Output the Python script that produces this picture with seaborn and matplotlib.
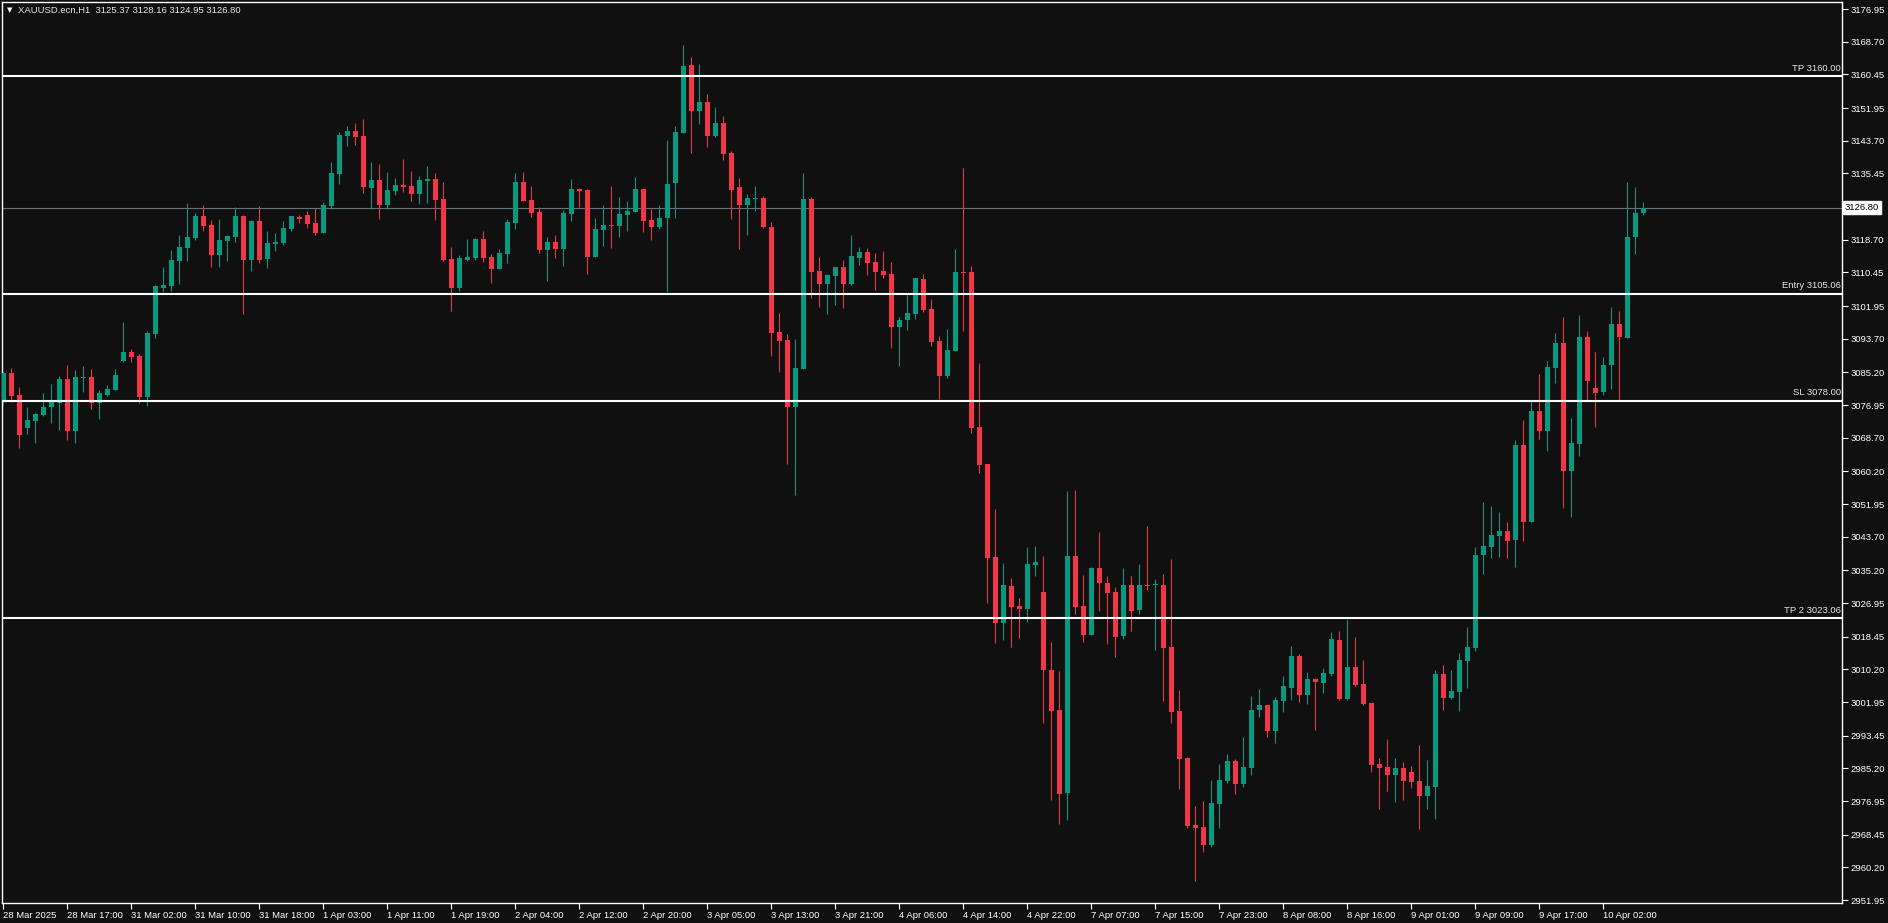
import matplotlib
matplotlib.use("Agg")
import numpy as np
import pandas as pd
import seaborn as sns
import matplotlib.pyplot as plt
import matplotlib.transforms as mtransforms

# ---------------- data (XAUUSD.ecn H1) ----------------
opens = [3077.7, 3085.0, 3079.5, 3071.1, 3072.9, 3074.4, 3076.4, 3077.4, 3083.5, 3070.4,
         3083.8, 3084.0, 3077.4, 3079.5, 3080.7, 3088.0, 3090.3, 3089.3, 3078.9, 3094.9,
         3106.5, 3107.0, 3113.3, 3116.6, 3119.1, 3124.7, 3122.4, 3114.8, 3118.4, 3119.4,
         3124.7, 3113.6, 3123.4, 3113.8, 3117.6, 3117.9, 3121.4, 3124.4, 3124.9, 3122.9,
         3120.4, 3127.3, 3135.3, 3144.9, 3146.1, 3144.9, 3131.7, 3133.7, 3127.4, 3131.0,
         3132.5, 3132.3, 3130.2, 3133.5, 3134.0, 3128.9, 3113.8, 3106.5, 3113.5, 3114.0,
         3118.8, 3114.3, 3111.2, 3115.1, 3122.9, 3133.2, 3128.7, 3125.7, 3116.1, 3118.1,
         3116.3, 3125.2, 3131.5, 3131.2, 3114.3, 3121.1, 3122.4, 3122.1, 3124.9, 3125.7,
         3131.5, 3123.6, 3121.9, 3124.2, 3133.0, 3145.6, 3162.8, 3151.2, 3153.4, 3144.9,
         3148.1, 3140.6, 3132.0, 3127.4, 3128.9, 3129.2, 3121.9, 3095.4, 3093.4, 3076.4,
         3086.0, 3129.0, 3110.8, 3107.5, 3109.5, 3111.8, 3107.5, 3114.0, 3115.6, 3113.0,
         3110.8, 3110.0, 3096.6, 3098.4, 3099.9, 3108.7, 3101.2, 3093.1, 3084.3, 3090.6,
         3110.5, 3110.5, 3071.4, 3062.0, 3038.6, 3021.8, 3031.3, 3026.2, 3025.5, 3036.5,
         3029.7, 3010.0, 2999.9, 2978.9, 3038.8, 3026.2, 3018.9, 3035.8, 3032.0, 3029.7,
         3018.6, 3031.5, 3025.1, 3031.5, 3031.4, 3031.5, 3015.8, 2999.6, 2987.8, 2970.8,
         2970.4, 2965.8, 2976.2, 2982.0, 2987.0, 2981.2, 2985.3, 2999.9, 3001.2, 2994.6,
         3002.2, 3005.5, 3013.6, 3003.7, 3007.8, 3006.7, 3009.0, 3017.6, 3002.7, 3010.8,
         3006.5, 3001.7, 2986.3, 2985.5, 2983.5, 2985.3, 2984.3, 2982.0, 2978.2, 2980.5,
         3009.0, 3002.9, 3004.5, 3012.3, 3015.6, 3039.1, 3041.1, 3043.9, 3045.1, 3042.9,
         3066.9, 3047.4, 3075.4, 3070.4, 3086.3, 3092.6, 3060.3, 3067.1, 3094.1, 3081.2,
         3080.2, 3087.1, 3097.4, 3093.9, 3119.4, 3125.37]
highs = [3085.5, 3086.3, 3081.5, 3076.4, 3074.9, 3080.0, 3082.2, 3084.3, 3087.0, 3085.8,
         3086.8, 3086.0, 3080.7, 3082.0, 3086.0, 3097.9, 3091.1, 3089.8, 3095.6, 3107.2,
         3111.8, 3116.1, 3119.9, 3128.0, 3125.4, 3127.5, 3123.7, 3123.9, 3119.9, 3126.9,
         3124.9, 3123.7, 3127.2, 3120.9, 3120.4, 3123.4, 3124.7, 3124.9, 3125.9, 3126.7,
         3128.2, 3138.3, 3145.9, 3147.4, 3148.1, 3149.2, 3138.3, 3137.8, 3135.8, 3134.3,
         3139.1, 3136.0, 3134.8, 3137.3, 3135.5, 3133.2, 3116.8, 3114.8, 3118.8, 3119.1,
         3120.8, 3115.1, 3116.3, 3123.9, 3135.5, 3135.7, 3132.2, 3126.9, 3119.4, 3119.9,
         3126.2, 3134.0, 3131.7, 3131.5, 3124.2, 3127.4, 3132.2, 3129.4, 3128.4, 3134.5,
         3131.5, 3126.4, 3127.4, 3143.9, 3147.4, 3167.8, 3164.8, 3163.0, 3155.5, 3152.2,
         3149.9, 3141.1, 3134.3, 3130.2, 3132.2, 3129.7, 3123.1, 3100.2, 3094.9, 3093.6,
         3135.5, 3129.5, 3114.3, 3110.0, 3111.8, 3113.5, 3119.9, 3116.8, 3116.6, 3115.3,
         3115.8, 3113.0, 3099.1, 3105.0, 3109.0, 3110.0, 3103.7, 3094.4, 3096.1, 3116.3,
         3136.8, 3112.1, 3087.6, 3062.0, 3050.6, 3037.1, 3033.2, 3028.2, 3041.1, 3041.3,
         3038.8, 3017.1, 3009.8, 3055.2, 3055.5, 3034.0, 3036.1, 3044.8, 3033.8, 3030.9,
         3035.8, 3033.8, 3036.7, 3046.4, 3033.0, 3034.2, 3038.1, 3005.0, 2988.0, 2975.7,
         2976.9, 2982.2, 2986.3, 2988.8, 2987.5, 2993.1, 3003.5, 3005.2, 3001.2, 3003.2,
         3008.5, 3016.1, 3014.1, 3009.5, 3008.0, 3010.5, 3019.6, 3019.9, 3022.9, 3018.4,
         3012.5, 3001.7, 2987.8, 2992.6, 2987.8, 2986.8, 2985.8, 2991.1, 2987.3, 3010.0,
         3011.3, 3010.0, 3014.3, 3020.9, 3041.1, 3052.5, 3051.5, 3049.9, 3047.4, 3068.1,
         3073.2, 3078.2, 3084.8, 3088.1, 3095.1, 3099.2, 3073.7, 3099.7, 3095.6, 3090.3,
         3089.1, 3101.7, 3100.7, 3133.3, 3132.0, 3128.16]
lows = [3076.7, 3077.7, 3066.2, 3069.7, 3067.3, 3074.2, 3072.4, 3070.6, 3068.1, 3067.3,
        3080.2, 3075.9, 3073.4, 3079.2, 3080.7, 3087.8, 3087.8, 3077.4, 3076.7, 3093.9,
        3105.5, 3105.7, 3107.5, 3113.3, 3118.6, 3120.9, 3111.8, 3111.8, 3113.3, 3118.1,
        3099.9, 3110.8, 3112.8, 3111.5, 3115.8, 3117.4, 3120.9, 3122.9, 3121.6, 3119.9,
        3120.4, 3126.5, 3132.8, 3142.4, 3142.6, 3130.4, 3126.4, 3123.9, 3126.4, 3130.0,
        3130.7, 3128.4, 3127.7, 3127.9, 3123.6, 3113.3, 3100.6, 3105.7, 3113.3, 3113.5,
        3113.0, 3107.7, 3111.2, 3112.8, 3121.4, 3128.4, 3124.4, 3115.3, 3108.2, 3114.0,
        3112.0, 3123.4, 3126.9, 3110.0, 3114.3, 3117.1, 3116.6, 3119.4, 3120.8, 3125.7,
        3120.6, 3118.6, 3121.4, 3105.5, 3124.2, 3145.6, 3140.6, 3147.9, 3142.1, 3144.6,
        3138.8, 3123.9, 3116.3, 3119.9, 3125.9, 3121.6, 3089.3, 3085.3, 3062.0, 3054.2,
        3086.0, 3104.0, 3101.7, 3099.9, 3102.2, 3101.4, 3107.2, 3112.3, 3109.8, 3106.0,
        3109.0, 3091.3, 3086.8, 3095.9, 3098.6, 3100.4, 3091.8, 3078.4, 3083.8, 3090.6,
        3095.6, 3069.8, 3059.8, 3027.0, 3016.9, 3017.6, 3015.8, 3018.1, 3022.2, 3033.8,
        2996.7, 2977.2, 2971.2, 2972.1, 3024.1, 3017.1, 3018.9, 3024.9, 3016.6, 3013.3,
        3017.8, 3019.8, 3024.1, 3030.3, 3015.0, 3002.2, 2996.7, 2980.0, 2970.2, 2956.7,
        2964.1, 2965.3, 2970.1, 2981.5, 2978.7, 2980.5, 2983.5, 2998.2, 2993.1, 2991.6,
        2999.4, 3002.4, 3001.9, 3001.4, 2994.9, 3004.2, 3008.5, 3002.4, 3002.4, 3006.0,
        3001.2, 2984.3, 2974.9, 2979.5, 2976.7, 2977.2, 2980.2, 2969.9, 2974.9, 2972.4,
        2999.9, 3002.7, 2999.6, 3005.5, 3014.8, 3034.3, 3038.3, 3038.6, 3038.3, 3036.0,
        3042.6, 3047.4, 3068.4, 3065.3, 3082.5, 3050.9, 3048.7, 3064.1, 3078.2, 3071.4,
        3079.5, 3081.0, 3078.2, 3093.9, 3115.1, 3124.95]
closes = [3085.0, 3079.2, 3069.4, 3073.2, 3074.7, 3076.4, 3077.7, 3083.5, 3070.4, 3084.0,
          3084.0, 3077.4, 3080.0, 3081.0, 3084.5, 3090.3, 3089.0, 3078.9, 3095.1, 3107.0,
          3107.2, 3113.6, 3116.8, 3119.4, 3124.7, 3122.1, 3114.8, 3118.6, 3119.6, 3124.7,
          3113.6, 3123.4, 3113.6, 3117.9, 3118.1, 3121.6, 3124.7, 3123.9, 3122.6, 3120.4,
          3127.5, 3135.5, 3145.1, 3146.1, 3144.6, 3132.0, 3133.7, 3127.4, 3131.2, 3132.5,
          3132.0, 3130.2, 3133.7, 3134.0, 3128.7, 3113.5, 3106.5, 3114.0, 3114.3, 3118.8,
          3114.0, 3111.2, 3115.3, 3123.1, 3133.2, 3128.4, 3125.4, 3116.1, 3118.1, 3116.3,
          3125.4, 3131.5, 3131.0, 3114.3, 3121.4, 3122.4, 3122.1, 3125.2, 3125.9, 3131.5,
          3123.4, 3121.9, 3124.2, 3132.7, 3145.9, 3162.5, 3151.2, 3153.4, 3144.9, 3148.1,
          3140.3, 3131.2, 3127.4, 3129.2, 3129.2, 3121.9, 3095.1, 3093.1, 3076.4, 3086.3,
          3129.0, 3110.5, 3107.5, 3109.8, 3111.8, 3107.5, 3114.6, 3115.6, 3112.8, 3110.5,
          3109.8, 3096.6, 3098.4, 3100.2, 3109.0, 3100.9, 3092.8, 3084.3, 3090.8, 3110.5,
          3110.3, 3071.2, 3061.8, 3038.3, 3021.8, 3031.5, 3025.9, 3025.5, 3036.7, 3037.3,
          3010.0, 2999.6, 2978.7, 3038.8, 3025.9, 3018.9, 3035.8, 3032.0, 3029.6, 3018.3,
          3031.5, 3024.9, 3031.5, 3031.3, 3031.5, 3015.6, 2999.4, 2987.6, 2970.6, 2970.1,
          2965.8, 2976.4, 2982.2, 2987.0, 2981.2, 2985.5, 2999.9, 3001.2, 2994.6, 3002.4,
          3006.0, 3013.6, 3003.7, 3007.8, 3007.0, 3009.3, 3017.9, 3002.7, 3010.8, 3006.2,
          3001.4, 2986.0, 2985.3, 2983.5, 2985.3, 2982.0, 2981.7, 2978.2, 2980.7, 3009.0,
          3002.9, 3004.7, 3012.5, 3015.8, 3039.1, 3041.3, 3044.1, 3045.1, 3042.6, 3066.9,
          3047.4, 3075.4, 3070.4, 3086.6, 3092.6, 3060.3, 3067.4, 3094.1, 3083.0, 3080.0,
          3087.1, 3097.4, 3094.1, 3119.4, 3125.4, 3126.80]

time_labels = ["28 Mar 2025", "28 Mar 17:00", "31 Mar 02:00", "31 Mar 10:00", "31 Mar 18:00",
               "1 Apr 03:00", "1 Apr 11:00", "1 Apr 19:00", "2 Apr 04:00", "2 Apr 12:00",
               "2 Apr 20:00", "3 Apr 05:00", "3 Apr 13:00", "3 Apr 21:00", "4 Apr 06:00",
               "4 Apr 14:00", "4 Apr 22:00", "7 Apr 07:00", "7 Apr 15:00", "7 Apr 23:00",
               "8 Apr 08:00", "8 Apr 16:00", "9 Apr 01:00", "9 Apr 09:00", "9 Apr 17:00",
               "10 Apr 02:00"]
price_ticks = [3176.95, 3168.70, 3160.45, 3151.95, 3143.70, 3135.45, 3118.70, 3110.45,
               3101.95, 3093.70, 3085.20, 3076.95, 3068.70, 3060.20, 3051.95, 3043.70,
               3035.20, 3026.95, 3018.45, 3010.20, 3001.95, 2993.45, 2985.20, 2976.95,
               2968.45, 2960.20, 2951.95]
level_names = ["TP", "Entry", "SL", "TP 2"]
level_values = [3160.00, 3105.06, 3078.00, 3023.06]
current_price = 3126.80
symbol = "XAUUSD.ecn,H1"

# ---------------- style ----------------
BG = "#101010"
UP = "#089981"
DOWN = "#F23645"
sns.set_theme(style="dark", rc={"axes.facecolor": BG, "figure.facecolor": BG,
                                "axes.edgecolor": "white", "text.color": "white",
                                "xtick.color": "white", "ytick.color": "white"})
plt.rcParams["font.family"] = ["Liberation Sans", "DejaVu Sans"]

df = pd.DataFrame({"open": opens, "high": highs, "low": lows, "close": closes})
df["idx"] = np.arange(len(df))
df["up"] = df["close"] >= df["open"]
df["body_lo"] = df[["open", "close"]].min(axis=1)
df["body_h"] = (df["close"] - df["open"]).abs().clip(lower=0.28)
colors = np.where(df["up"], UP, DOWN)

W, H = 1888, 923
fig = plt.figure(figsize=(W / 100, H / 100), dpi=100, facecolor=BG)
ax = fig.add_axes([2 / W, (H - 902.5) / H, 1840 / W, 900.5 / H])
ax.set_facecolor(BG)

# candles
ax.vlines(df["idx"], df["low"], df["high"], colors=colors, linewidth=0.75, zorder=3)
ax.bar(df["idx"], df["body_h"], bottom=df["body_lo"], width=0.62, color=colors,
       linewidth=0, zorder=4)

ax.set_xlim(-0.16, 229.84)
ax.set_ylim(2951.32, 3178.72)

# levels
trans = mtransforms.blended_transform_factory(ax.transAxes, ax.transData)
for name, val in zip(level_names, level_values):
    ax.axhline(val, color="white", linewidth=1.5, zorder=5)
    ax.text(0.9995, val + 0.9, f"{name} {val:.2f}", transform=trans, ha="right",
            va="bottom", color="#e6e6e6", fontsize=6.8, zorder=6)
ax.axhline(current_price, color="#66707a", linewidth=0.8, zorder=2)
ax.text(1 + 3 / 1840, current_price, f"{current_price:.2f}", transform=trans,
        ha="left", va="center", color="black", fontsize=6.8, zorder=7, clip_on=False,
        bbox=dict(facecolor="white", edgecolor="white", boxstyle="square,pad=0.18"))

# axes
for s in ax.spines.values():
    s.set_color("white")
    s.set_linewidth(1.0)
ax.grid(False)
ax.yaxis.tick_right()
ax.set_yticks(price_ticks)
ax.set_yticklabels([f"{v:.2f}" for v in price_ticks])
ax.set_xticks(np.arange(0, 8 * len(time_labels), 8))
ax.set_xticklabels(time_labels, ha="left")
ax.tick_params(axis="y", which="major", direction="out", length=4, width=0.8,
               colors="white", labelsize=6.8, pad=2, right=True, left=False)
ax.tick_params(axis="x", which="major", direction="out", length=4, width=0.8,
               colors="white", labelsize=6.8, pad=2, bottom=True)
ax.set_xlabel("")
ax.set_ylabel("")

# header
fig.text(7 / W, 1 - 10 / H, "▼", ha="left", va="center", color="white", fontsize=5,
         family=["DejaVu Sans"])
fig.text(18 / W, 1 - 10 / H, f"{symbol}  {opens[-1]:.2f} {highs[-1]:.2f} {lows[-1]:.2f} {closes[-1]:.2f}",
         ha="left", va="center", color="#e6e6e6", fontsize=6.8)

fig.savefig("out.png", dpi=100, facecolor=BG)
